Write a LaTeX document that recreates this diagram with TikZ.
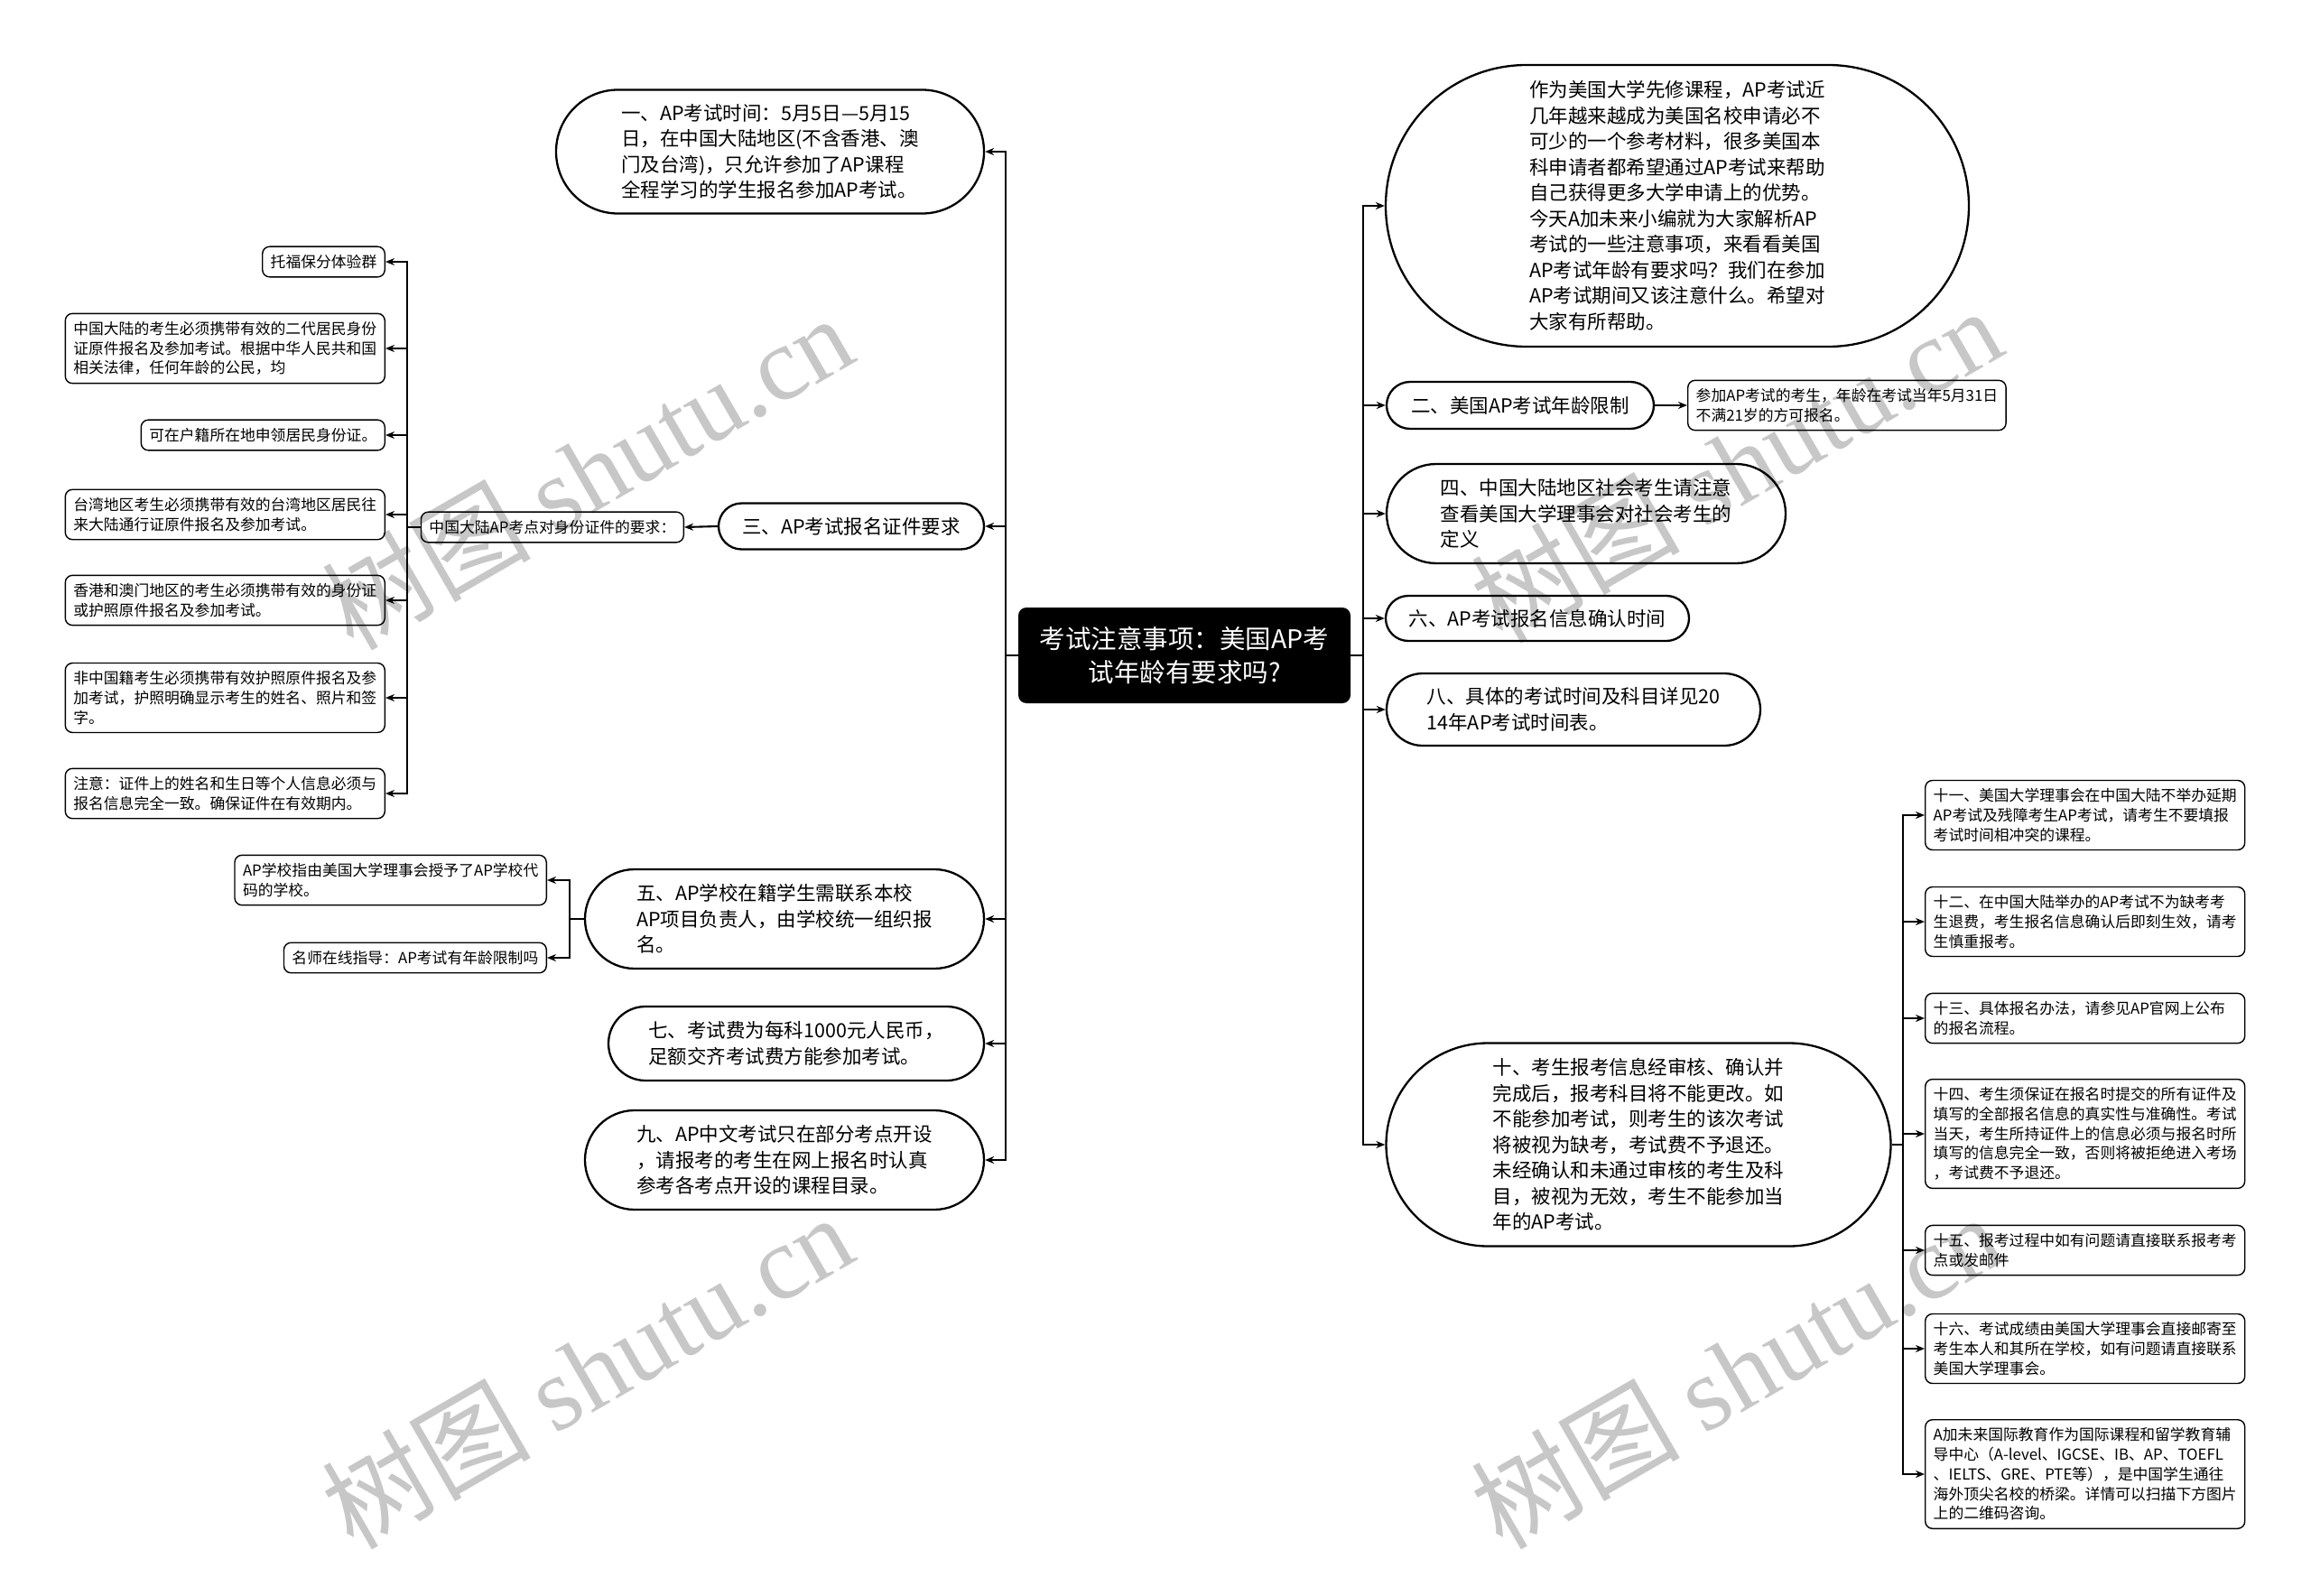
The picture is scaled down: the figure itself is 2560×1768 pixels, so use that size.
\documentclass[tikz,border=0pt]{standalone}
\usepackage{fontspec}
\setmainfont{Noto Sans CJK SC}
\newfontfamily\wmserif{Liberation Serif}
\usetikzlibrary{positioning, arrows.meta, shapes.misc}

\newcommand\topicfont{\fontsize{21.5}{28.5}\selectfont}
\newcommand\leaffont{\fontsize{16.8}{21.7}\selectfont}
\newcommand\rootfont{\fontsize{28.5}{37}\selectfont}

\tikzset{
  topic/.style={draw, line width=2.3pt, rounded rectangle, align=left, font=\topicfont, inner xsep=1pt, inner ysep=4pt},
  leaf/.style={draw, line width=1.4pt, rounded corners=8pt, align=left, font=\leaffont, inner xsep=9pt, inner ysep=9pt},
  wideleaf/.style={leaf, text width=336pt},
  root/.style={fill=black, rounded corners=9pt, text=white, align=center, font=\rootfont, minimum width=368pt, minimum height=106pt},
  link/.style={line width=2.1pt, -{Stealth[length=10pt,width=8pt]}},
  watermark/.style={text=black!22, font=\fontsize{116}{116}\selectfont, rotate=30},
}

\begin{document}
\begin{tikzpicture}[x=1pt, y=-1pt]
\fill[white] (0,0) rectangle (2560,1768);
\useasboundingbox (0,0) rectangle (2560,1768);

% watermarks
\node[watermark] (wm1) at (650,522) {树图 {\wmserif shutu.cn}};
\node[watermark] (wm2) at (1923,514) {树图 {\wmserif shutu.cn}};
\node[watermark] (wm3) at (650,1518) {树图 {\wmserif shutu.cn}};
\node[watermark] (wm4) at (1923,1518) {树图 {\wmserif shutu.cn}};

% centre
\node[root] (root) at (1312,726) {考试注意事项：美国AP考\\试年龄有要求吗?};

% left topics
\node[topic, minimum width=476pt, minimum height=137pt] (one) at (853,168) {一、AP考试时间：5月5日—5月15\\日，在中国大陆地区(不含香港、澳\\门及台湾)，只允许参加了AP课程\\全程学习的学生报名参加AP考试。};
\node[topic, minimum width=296pt, minimum height=51pt] (three) at (943,583) {三、AP考试报名证件要求};
\node[topic, minimum width=444pt, minimum height=110pt] (five) at (869,1018) {五、AP学校在籍学生需联系本校\\AP项目负责人，由学校统一组织报\\名。};
\node[topic, minimum width=418pt, minimum height=82pt] (seven) at (882,1156) {七、考试费为每科1000元人民币，\\足额交齐考试费方能参加考试。};
\node[topic, minimum width=444pt, minimum height=110pt] (nine) at (869,1285) {九、AP中文考试只在部分考点开设\\，请报考的考生在网上报名时认真\\参考各考点开设的课程目录。};

% right topics
\node[topic, minimum width=648pt, minimum height=312pt] (intro) at (1858,228) {作为美国大学先修课程，AP考试近\\几年越来越成为美国名校申请必不\\可少的一个参考材料，很多美国本\\科申请者都希望通过AP考试来帮助\\自己获得更多大学申请上的优势。\\今天A加未来小编就为大家解析AP\\考试的一些注意事项，来看看美国\\AP考试年龄有要求吗？我们在参加\\AP考试期间又该注意什么。希望对\\大家有所帮助。};
\node[topic, minimum width=298pt, minimum height=52pt] (two) at (1684,449) {二、美国AP考试年龄限制};
\node[topic, minimum width=444pt, minimum height=110pt] (four) at (1757,569) {四、中国大陆地区社会考生请注意\\查看美国大学理事会对社会考生的\\定义};
\node[topic, minimum width=338pt, minimum height=50pt] (six) at (1703,685) {六、AP考试报名信息确认时间};
\node[topic, minimum width=416pt, minimum height=80pt] (eight) at (1743,786) {八、具体的考试时间及科目详见20\\14年AP考试时间表。};
\node[topic, minimum width=561pt, minimum height=225pt] (ten) at (1815,1268) {十、考生报考信息经审核、确认并\\完成后，报考科目将不能更改。如\\不能参加考试，则考生的该次考试\\将被视为缺考，考试费不予退还。\\未经确认和未通过审核的考生及科\\目，被视为无效，考生不能参加当\\年的AP考试。};

% leaves of three
\node[leaf, anchor=east] (req) at (758,584) {中国大陆AP考点对身份证件的要求：};
\node[leaf, anchor=east] (tuofu) at (427,290) {托福保分体验群};
\node[wideleaf, anchor=east] (mainland) at (427,386) {中国大陆的考生必须携带有效的二代居民身份\\证原件报名及参加考试。根据中华人民共和国\\相关法律，任何年龄的公民，均};
\node[leaf, anchor=east] (huji) at (427,482) {可在户籍所在地申领居民身份证。};
\node[wideleaf, anchor=east] (taiwan) at (427,570) {台湾地区考生必须携带有效的台湾地区居民往\\来大陆通行证原件报名及参加考试。};
\node[wideleaf, anchor=east] (hkmo) at (427,665) {香港和澳门地区的考生必须携带有效的身份证\\或护照原件报名及参加考试。};
\node[wideleaf, anchor=east] (foreign) at (427,773) {非中国籍考生必须携带有效护照原件报名及参\\加考试，护照明确显示考生的姓名、照片和签\\字。};
\node[wideleaf, anchor=east] (notice) at (427,879) {注意：证件上的姓名和生日等个人信息必须与\\报名信息完全一致。确保证件在有效期内。};

% leaves of five
\node[leaf, anchor=east] (apschool) at (606,975) {AP学校指由美国大学理事会授予了AP学校代\\码的学校。};
\node[leaf, anchor=east] (mingshi) at (606,1061) {名师在线指导：AP考试有年龄限制吗};

% leaf of two
\node[leaf, anchor=west] (age) at (1869,449) {参加AP考试的考生，年龄在考试当年5月31日\\不满21岁的方可报名。};

% leaves of ten
\node[wideleaf, anchor=west] (r11) at (2132,903) {十一、美国大学理事会在中国大陆不举办延期\\AP考试及残障考生AP考试，请考生不要填报\\考试时间相冲突的课程。};
\node[wideleaf, anchor=west] (r12) at (2132,1021) {十二、在中国大陆举办的AP考试不为缺考考\\生退费，考生报名信息确认后即刻生效，请考\\生慎重报考。};
\node[wideleaf, anchor=west] (r13) at (2132,1128) {十三、具体报名办法，请参见AP官网上公布\\的报名流程。};
\node[wideleaf, anchor=west] (r14) at (2132,1256) {十四、考生须保证在报名时提交的所有证件及\\填写的全部报名信息的真实性与准确性。考试\\当天，考生所持证件上的信息必须与报名时所\\填写的信息完全一致，否则将被拒绝进入考场\\，考试费不予退还。};
\node[wideleaf, anchor=west] (r15) at (2132,1385) {十五、报考过程中如有问题请直接联系报考考\\点或发邮件};
\node[wideleaf, anchor=west] (r16) at (2132,1494) {十六、考试成绩由美国大学理事会直接邮寄至\\考生本人和其所在学校，如有问题请直接联系\\美国大学理事会。};
\node[wideleaf, anchor=west] (ajia) at (2132,1633) {A加未来国际教育作为国际课程和留学教育辅\\导中心（A-level、IGCSE、IB、AP、TOEFL\\、IELTS、GRE、PTE等），是中国学生通往\\海外顶尖名校的桥梁。详情可以扫描下方图片\\上的二维码咨询。};

% connectors
\foreach \n in {one,three,five,seven,nine}
  \draw[link] (root.west) -- ++(-14,0) |- (\n.east);
\foreach \n in {intro,two,four,six,eight,ten}
  \draw[link] (root.east) -- ++(14,0) |- (\n.west);
\draw[link] (three.west) -- (req.east);
\foreach \n in {tuofu,mainland,huji,taiwan,hkmo,foreign,notice}
  \draw[link] (req.west) -- ++(-15,0) |- (\n.east);
\foreach \n in {apschool,mingshi}
  \draw[link] (five.west) -- ++(-16,0) |- (\n.east);
\draw[link] (two.east) -- (age.west);
\foreach \n in {r11,r12,r13,r14,r15,r16,ajia}
  \draw[link] (ten.east) -- ++(12,0) |- (\n.west);
\end{tikzpicture}
\end{document}
